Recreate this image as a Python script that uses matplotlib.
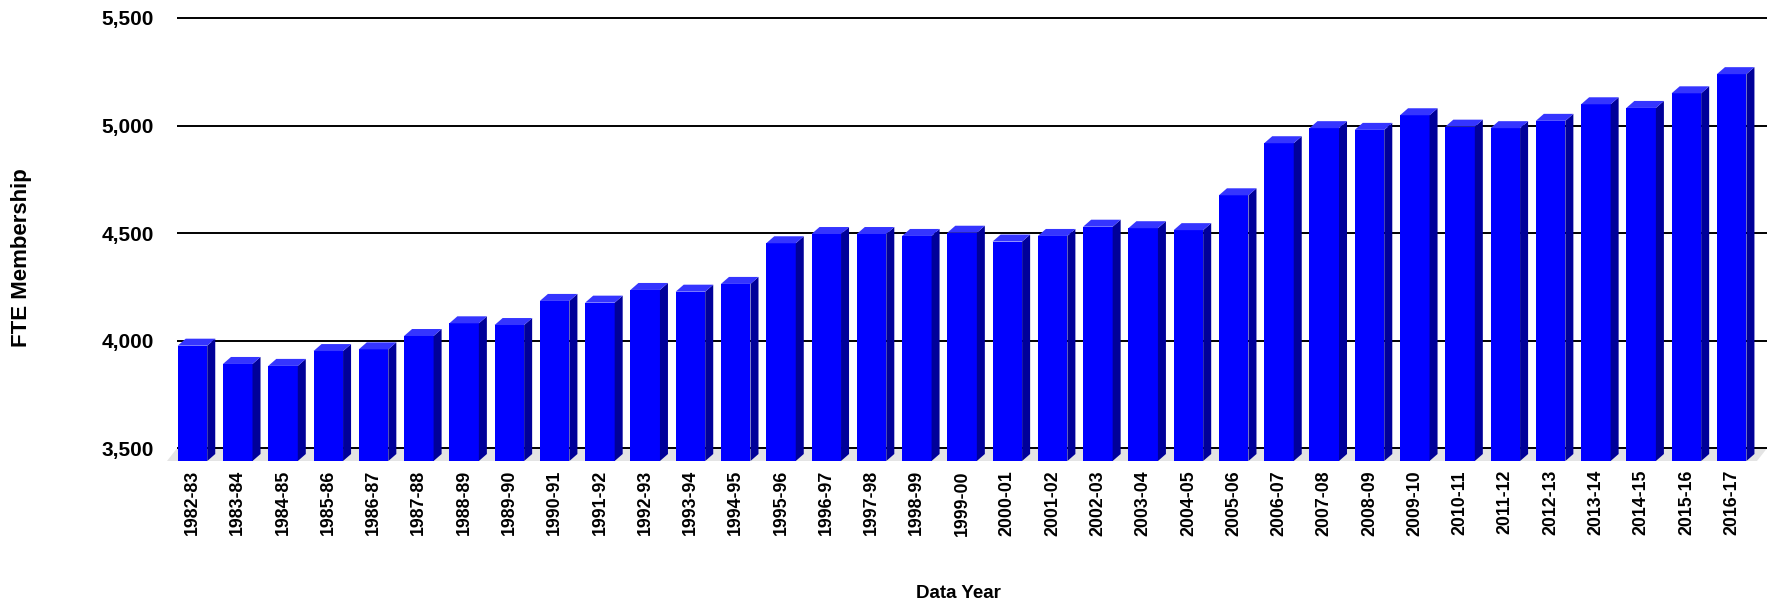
import matplotlib.pyplot as plt
from matplotlib.patches import Polygon

seasons = ['1982-83', '1983-84', '1984-85', '1985-86', '1986-87', '1987-88',
           '1988-89', '1989-90', '1990-91', '1991-92', '1992-93', '1993-94',
           '1994-95', '1995-96', '1996-97', '1997-98', '1998-99', '1999-00',
           '2000-01', '2001-02', '2002-03', '2003-04', '2004-05', '2005-06',
           '2006-07', '2007-08', '2008-09', '2009-10', '2010-11', '2011-12',
           '2012-13', '2013-14', '2014-15', '2015-16', '2016-17']
fte = [4036, 3951, 3942, 4011, 4019, 4081, 4140, 4132, 4244, 4236, 4295, 4287,
       4323, 4512, 4555, 4555, 4546, 4561, 4520, 4546, 4589, 4582, 4573, 4735,
       4977, 5047, 5039, 5107, 5054, 5047, 5081, 5158, 5141, 5209, 5298]
y_ticks = [3500, 4000, 4500, 5000, 5500]

# 3d look: floor depth and bar depth, in data units
floor_dx, floor_dy = 0.221, 59
bar_dx, bar_dy = 0.177, 32.5
bar_w = 0.652
base = y_ticks[0] - floor_dy
x_left, x_right = -0.563, 34.78

plt.rcParams['font.family'] = ['Liberation Sans', 'DejaVu Sans']
plt.rcParams['font.weight'] = 'bold'

fig = plt.figure(figsize=(17.72, 6.05), dpi=100)
ax = fig.add_axes([0.09424, 0.23802, 0.90293, 0.73223])
ax.set_xlim(x_left, x_right)
ax.set_ylim(base, y_ticks[-1])
for s in ax.spines.values():
    s.set_visible(False)

# floor
floor = Polygon([(x_left, base), (x_right - floor_dx, base),
                 (x_right, y_ticks[0]), (x_left + floor_dx, y_ticks[0])],
                closed=True, facecolor='#e4e4e4', edgecolor='none', zorder=1)
ax.add_patch(floor)

# gridlines on the back wall
ax.hlines(y_ticks, x_left + floor_dx, x_right, colors='black', linewidth=1.4,
          zorder=2, clip_on=False)

# bars: front face, then side and top faces
xs = list(range(len(seasons)))
ax.bar(xs, [v - floor_dy - base for v in fte], bottom=base, width=bar_w,
       color='#0000ff', edgecolor='none', zorder=3)
for x, v in zip(xs, fte):
    top = v - floor_dy
    left = x - bar_w / 2
    right = x + bar_w / 2
    side = Polygon([(right, base), (right + bar_dx, base + bar_dy),
                    (right + bar_dx, top + bar_dy), (right, top)],
                   closed=True, facecolor='#000099', edgecolor='none', zorder=3)
    cap = Polygon([(left, top), (right, top), (right + bar_dx, top + bar_dy),
                   (left + bar_dx, top + bar_dy)],
                  closed=True, facecolor='#3535ff', edgecolor='none', zorder=3)
    ax.add_patch(side)
    ax.add_patch(cap)

ax.set_xticks(xs)
ax.set_xticklabels(seasons, rotation=90, fontsize=12.8, fontweight='bold')
ax.set_yticks(y_ticks)
ax.set_yticklabels([f'{t:,}' for t in y_ticks], fontsize=15, fontweight='bold')
ax.tick_params(axis='x', length=0, pad=6.5)
ax.tick_params(axis='y', length=0, pad=9.4)

fig.text(22 / 1772, 1 - 258 / 605, 'FTE Membership', rotation=90,
         ha='center', va='center', fontsize=16, fontweight='bold')
fig.text(958 / 1772, 1 - 594 / 605, 'Data Year', ha='center', va='center',
         fontsize=13.5, fontweight='bold')

fig.savefig('out.png', dpi=100)
